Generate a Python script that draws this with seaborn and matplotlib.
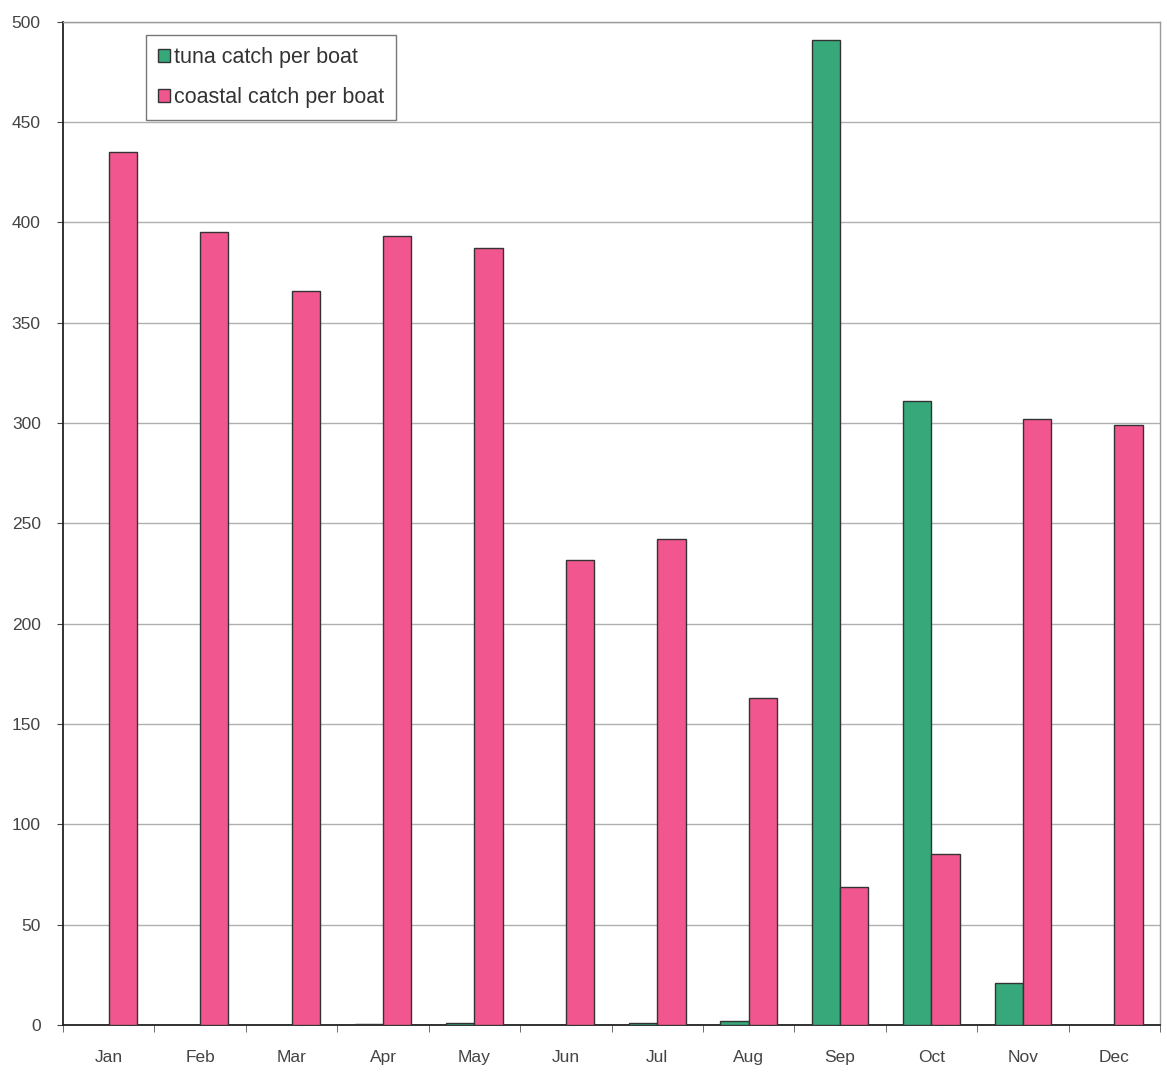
import matplotlib
matplotlib.use("Agg")
import matplotlib.pyplot as plt
import seaborn as sns
import pandas as pd
import numpy as np

months = ["Jan", "Feb", "Mar", "Apr", "May", "Jun", "Jul", "Aug", "Sep", "Oct", "Nov", "Dec"]
tuna = [0, 0, 0, 0.5, 1, 0, 1, 2, 491, 311, 21, 0]
coastal = [435, 395, 366, 393, 387, 232, 242, 163, 69, 85, 302, 299]
series_names = ["tuna catch per boat", "coastal catch per boat"]
yticks = [0, 50, 100, 150, 200, 250, 300, 350, 400, 450, 500]

df = pd.DataFrame({
    "month": months * 2,
    "value": tuna + coastal,
    "series": [series_names[0]] * len(months) + [series_names[1]] * len(months),
})

sns.set_style("white")
plt.rcParams["font.family"] = ["Liberation Sans", "DejaVu Sans"]

fig = plt.figure(figsize=(11.67, 10.87), dpi=100)
ax = fig.add_axes([0.054, 0.057, 0.94, 0.923])

palette = {series_names[0]: "#36a87a", series_names[1]: "#f2568e"}
sns.barplot(data=df, x="month", y="value", hue="series", palette=palette,
            width=0.62, edgecolor="#333333", linewidth=1.0, saturation=1,
            ax=ax, zorder=3)

ax.set_ylim(0, 500)
ax.set_xlim(-0.5, 11.5)
ax.set_yticks(yticks)
ax.yaxis.grid(True, color="#b0b0b0", linewidth=1.0, zorder=0)
ax.set_axisbelow(True)
ax.set_xlabel("")
ax.set_ylabel("")
ax.tick_params(axis="both", labelsize=12.5, colors="#444444")
ax.set_xticks(range(len(months)))
ax.set_xticklabels(months)
ax.tick_params(axis="x", length=0, pad=18)
ax.tick_params(axis="y", length=4, left=True, pad=12)
# minor ticks at category boundaries
ax.set_xticks(np.arange(-0.5, 12, 1), minor=True)
ax.tick_params(axis="x", which="minor", length=5, bottom=True, color="#555555")

for side in ["left", "bottom"]:
    ax.spines[side].set_color("#222222")
    ax.spines[side].set_linewidth(1.3)
for side in ["top", "right"]:
    ax.spines[side].set_color("#999999")
    ax.spines[side].set_linewidth(1.0)

leg = ax.legend(loc="upper left", bbox_to_anchor=(0.07, 0.993), frameon=True,
                fontsize=15.5, handlelength=0.55, handleheight=0.55, handletextpad=0.2,
                labelspacing=0.9, borderpad=0.55, borderaxespad=0.3, fancybox=False)
leg.get_frame().set_edgecolor("#555555")
leg.get_frame().set_linewidth(1.0)
for t in leg.get_texts():
    t.set_color("#333333")

fig.savefig("out.png", dpi=100)
